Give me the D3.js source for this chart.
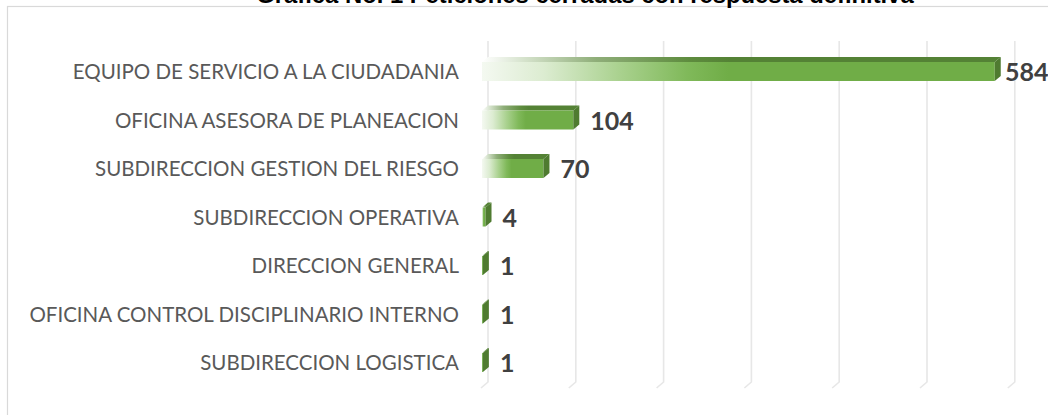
<!DOCTYPE html>
<html>
<head>
<meta charset="utf-8">
<script src="https://cdn.jsdelivr.net/npm/d3@7"></script>
<style>
  html, body { margin: 0; padding: 0; background: #fff; }
  svg { display: block; }
</style>
</head>
<body>
<div id="chart"></div>
<script>
const title = "Grafica No. 1 Peticiones cerradas con respuesta definitiva";
const categories = [
  "EQUIPO DE SERVICIO A LA CIUDADANIA",
  "OFICINA ASESORA DE PLANEACION",
  "SUBDIRECCION GESTION DEL RIESGO",
  "SUBDIRECCION OPERATIVA",
  "DIRECCION GENERAL",
  "OFICINA CONTROL DISCIPLINARIO INTERNO",
  "SUBDIRECCION LOGISTICA"
];
const values = [584, 104, 70, 4, 1, 1, 1];
const gridValues = [0, 100, 200, 300, 400, 500, 600, 700];

const W = 1048, H = 415;
const svg = d3.select("#chart").append("svg").attr("width", W).attr("height", H);
const defs = svg.append("defs");

// front-face gradient
const gf = defs.append("linearGradient").attr("id", "gFront").attr("x1", 0).attr("x2", 1).attr("y1", 0).attr("y2", 0);
[[0, "#f4f9f1"], [0.06, "#e8f2e1"], [0.12, "#dcecd1"], [0.27, "#a9d18e"], [0.40, "#80b95a"], [0.48, "#70ad47"], [1, "#70ad47"]]
  .forEach(([o, c]) => gf.append("stop").attr("offset", o).attr("stop-color", c));
// top-face gradient
const gt = defs.append("linearGradient").attr("id", "gTop").attr("x1", 0).attr("x2", 1).attr("y1", 0).attr("y2", 0);
[[0, "#ffffff"], [0.08, "#d6e3cd"], [0.22, "#8fae79"], [0.40, "#5e8c3e"], [0.48, "#548235"], [1, "#548235"]]
  .forEach(([o, c]) => gt.append("stop").attr("offset", o).attr("stop-color", c));

// chart frame
svg.append("rect").attr("x", 7.5).attr("y", 6.5).attr("width", 1100).attr("height", 500)
  .attr("fill", "none").attr("stroke", "#d9d9d9").attr("stroke-width", 1.2);

// title (mostly cut off at the top, as in the reference)
svg.append("text").attr("x", 585).attr("y", 3).attr("text-anchor", "middle")
  .attr("font-family", "Liberation Sans, Arial, sans-serif").attr("font-weight", "bold")
  .attr("font-size", 23.8).attr("fill", "#000").text(title);

const x = d3.scaleLinear().domain([0, 700]).range([488, 1102.6]);
const y = d3.scaleBand().domain(categories).range([47.75, 387.25]);

const depthX = 6, depthY = 5;
const gridTop = 41, gridBottom = 382;

// gridlines (back wall + floor feet)
svg.append("g").selectAll("path").data(gridValues).join("path")
  .attr("d", d => `M${x(d)},${gridTop} L${x(d)},${gridBottom} L${x(d) - 7},${gridBottom + 6}`)
  .attr("fill", "none").attr("stroke", "#e7e7e7").attr("stroke-width", 1.6);

// category labels
svg.append("g").selectAll("text").data(categories).join("text")
  .attr("x", 459).attr("y", d => y(d) + y.bandwidth() / 2)
  .attr("dy", "0.36em").attr("text-anchor", "end")
  .attr("font-family", "Lato, 'Open Sans', sans-serif").attr("font-size", 20.5)
  .attr("fill", "#595959").text(d => d);

const rows = categories.map((c, i) => ({ c, v: values[i] }));
const bars = svg.append("g").selectAll("g").data(rows).join("g");

bars.each(function (d) {
  const g = d3.select(this);
  const cy = y(d.c) + y.bandwidth() / 2;
  const x0b = x(0), x1b = x(d.v);
  const x0f = x0b - depthX, x1f = x1b - depthX;
  const fTop = cy - 10, fBot = cy + 9;
  // top face
  g.append("path")
    .attr("d", `M${x0f},${fTop} L${x0b},${fTop - depthY} L${x1b},${fTop - depthY} L${x1f},${fTop} Z`)
    .attr("fill", "url(#gTop)");
  // front face
  if (x1f - x0f > 0.5) {
    g.append("rect").attr("x", x0f).attr("y", fTop).attr("width", x1f - x0f).attr("height", fBot - fTop)
      .attr("fill", "url(#gFront)");
  }
  // side face
  g.append("path")
    .attr("d", `M${x1f},${fTop} L${x1b},${fTop - depthY} L${x1b},${fBot - depthY} L${x1f},${fBot} Z`)
    .attr("fill", "#4f7b30");
});

// value labels
bars.append("text")
  .attr("x", d => Math.min(x(d.v) + 11, 1005))
  .attr("y", d => y(d.c) + y.bandwidth() / 2)
  .attr("dy", "0.36em")
  .attr("font-family", "Lato, 'Open Sans', sans-serif").attr("font-weight", "bold")
  .attr("font-size", 25).attr("fill", "#404040")
  .text(d => d.v);
</script>
</body>
</html>
